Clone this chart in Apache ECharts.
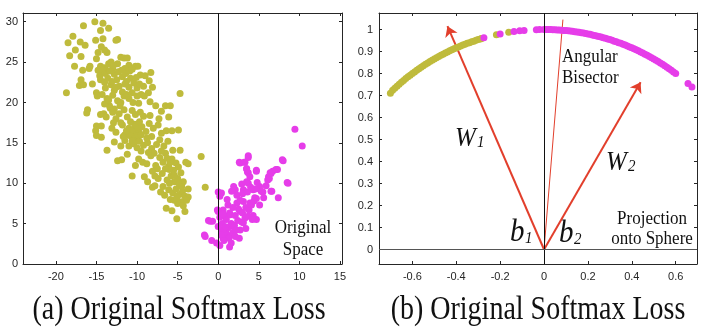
<!DOCTYPE html>
<html>
<head>
<meta charset="utf-8">
<script src="https://cdn.jsdelivr.net/npm/echarts@6/dist/echarts.min.js"></script>
<style>
  html, body { margin: 0; padding: 0; background: #fff; }
  #chart { width: 714px; height: 335px; }
</style>
</head>
<body>
<div id="chart"></div>
<script>
// ---- Panel (a): raw 2-D features ----
const xTicksA = [-20, -15, -10, -5, 0, 5, 10, 15];
const yTicksA = [0, 5, 10, 15, 20, 25, 30];

const classA = [
  [-16.6,29.5],[-15.2,30.0],[-14.2,29.8],[-13.5,29.2],[-14.5,28.9],[-17.9,28.2],
  [-18.5,27.4],[-17.0,27.5],[-16.4,27.1],[-15.1,27.7],[-14.2,27.9],[-12.4,27.8],[-12.6,27.7],[-14.4,26.9],[-17.6,26.5],[-14.8,26.2],[-13.7,26.2],[-14.0,26.5],
  [-18.3,25.8],[-16.9,25.7],[-15.0,25.4],[-17.7,24.5],[-15.8,24.5],[-15.9,24.2],[-16.7,24.0],[-14.5,24.5],[-14.0,24.3],[-13.8,24.0],[-14.3,23.8],[-13.5,24.8],
  [-12.0,25.6],[-11.6,25.5],[-11.2,25.5],[-12.4,24.8],[-11.0,24.6],[-10.2,24.5],[-9.9,24.5],[-11.5,24.2],[-13.2,25.0],[-14.8,24.0],[-13.0,24.2],[-12.8,23.5],[-14.6,23.3],
  [-16.9,22.8],[-17.1,22.1],[-16.6,22.2],[-15.5,22.3],[-14.5,22.8],[-14.0,22.5],[-13.6,23.0],[-12.5,22.8],[-12.2,22.0],[-11.8,23.2],[-11.3,22.6],[-10.8,23.0],
  [-10.4,22.4],[-9.6,23.4],[-9.0,23.3],[-8.3,23.7],[-8.5,22.7],[-9.2,22.0],[-10.0,21.8],[-11.0,21.9],[-12.8,21.5],[-13.9,21.8],[-13.2,22.2],[-15.0,21.2],[-14.3,21.0],
  [-18.7,21.2],[-14.9,20.8],[-13.7,20.5],[-13.0,20.9],[-12.4,20.2],[-11.6,20.8],[-11.0,20.5],[-10.5,20.0],[-10.0,20.8],[-9.5,21.0],[-9.1,20.8],[-8.6,21.2],[-8.1,21.9],
  [-8.4,20.1],[-11.8,21.3],[-12.0,20.0],[-13.4,19.6],[-9.8,19.9],[-4.7,21.1],
  [-16.1,19.1],[-16.2,18.7],[-14.5,18.5],[-14.1,18.6],[-13.3,19.3],[-12.8,19.2],[-12.2,18.6],[-11.6,19.1],[-11.2,18.2],[-10.6,19.0],[-10.2,18.5],[-9.6,18.8],
  [-9.2,18.3],[-8.4,18.4],[-7.7,19.6],[-7.0,18.9],[-6.5,19.6],[-5.9,19.6],[-6.1,18.2],[-7.3,18.0],[-12.6,18.0],[-13.8,18.2],
  [-15.0,17.1],[-14.4,17.1],[-15.1,16.5],[-13.1,16.8],[-12.6,16.3],[-11.8,17.2],[-11.0,16.8],[-10.7,16.2],[-10.4,16.6],[-10.1,16.0],[-10.6,15.7],[-9.8,16.4],
  [-9.4,17.0],[-8.9,16.4],[-8.5,17.4],[-8.0,16.8],[-7.4,17.2],[-7.0,16.2],[-6.4,16.5],[-5.7,16.5],[-4.9,16.6],[-11.5,16.0],[-10.9,15.9],[-10.3,15.5],[-9.9,15.9],[-12.0,17.5],
  [-15.0,15.9],[-14.4,15.7],[-13.7,14.1],[-12.8,15.1],[-12.0,14.6],[-11.5,15.3],[-11.0,14.6],[-10.4,14.9],[-9.7,15.2],[-9.2,14.7],[-8.7,15.0],[-8.2,14.3],
  [-7.6,14.8],[-7.2,15.4],[-6.7,14.6],[-6.2,15.2],[-5.6,14.1],[-4.7,14.1],[-7.9,13.7],[-9.5,14.0],
  [-12.4,12.8],[-11.9,12.9],[-11.2,13.6],[-10.2,12.2],[-9.8,13.0],[-9.3,12.6],[-8.8,12.4],[-8.3,13.4],[-7.7,12.2],[-7.2,13.2],[-6.8,12.6],[-6.5,13.7],
  [-6.1,12.1],[-5.7,13.0],[-5.2,12.5],[-4.0,12.6],[-3.7,12.4],[-2.1,13.3],[-7.5,11.8],[-5.5,11.6],
  [-10.6,10.9],[-9.1,10.8],[-8.7,10.2],[-8.1,11.5],[-7.4,10.6],[-6.9,11.2],[-6.3,10.4],[-5.8,10.9],[-5.4,10.2],[-5.0,10.6],[-4.6,11.3],[-4.3,10.2],[-6.0,11.7],[-7.8,10.9],[-4.8,9.9],
  [-8.1,9.5],[-7.8,9.7],[-7.1,8.9],[-6.6,8.5],[-6.1,9.2],[-5.6,8.8],[-5.2,9.3],[-4.8,8.6],[-4.4,9.0],[-4.1,8.4],[-3.7,9.3],[-3.7,8.3],[-1.6,9.5],[-5.9,8.0],[-6.8,9.6],
  [-6.4,6.9],[-5.7,6.6],[-5.1,5.6],[-4.1,6.5],[-4.5,7.7],[-5.0,7.5],[-5.4,7.9],[-4.3,7.2],[-3.9,7.9],
  [-14.2,24.0],[-13.9,23.6],[-13.4,23.9],[-12.9,24.6],[-12.3,23.8],[-11.9,24.0],[-11.4,23.6],[-10.9,23.9],[-10.6,24.1],[-13.1,22.6],[-12.6,21.9],[-11.5,22.3],
  [-10.1,23.1],[-9.7,22.3],[-11.3,21.0],[-10.6,21.2],[-10.3,17.3],[-10.0,17.0],[-9.7,17.6],[-10.8,17.6],[-11.3,16.5],[-9.5,16.0],[-8.8,15.6],[-10.6,15.2],
  [-10.0,14.4],[-11.7,15.8],[-8.2,15.8],[-6.0,10.0],[-5.4,11.0],[-4.9,12.0],[-5.9,12.6],[-6.5,11.8],[-4.5,9.6],[-5.1,8.2],[-6.3,13.1],[-7.0,14.0],[-8.6,13.8],
  [-12.1,19.6],[-13.0,18.8],[-12.9,17.5],[-14.0,19.8],[-13.5,20.3]
];

const classB = [
  [9.45,16.7],[10.35,14.6],[8.0,12.8],[8.6,10.0],[7.4,8.2],[7.3,11.7],[6.7,11.5],[6.4,11.3],[6.6,9.0],[6.1,10.4],[6.2,10.8],
  [3.7,13.2],[3.3,12.6],[2.7,12.5],[3.5,11.8],[3.6,11.4],[4.7,11.5],[5.1,9.6],[4.3,9.2],[3.7,10.0],[3.1,9.2],[2.1,9.2],[1.65,9.0],
  [0.4,8.8],[0.2,8.4],[4.5,8.2],[5.1,7.3],[3.9,7.55],[3.1,7.75],[2.3,7.55],[1.2,7.3],[0.6,6.7],[1.4,6.3],[2.7,6.5],[3.7,5.9],[4.7,5.5],
  [3.1,5.1],[1.85,4.65],[1.0,5.5],[0.0,6.5],[-1.0,5.3],[-0.7,5.3],[-1.6,3.4],[-0.8,2.9],[-0.2,2.6],[0.2,2.3],[0.6,3.2],[1.0,3.8],[1.3,3.5],[1.9,3.8],
  [0.4,4.25],[0.0,4.65],[2.7,4.2],
  [0.0,8.9],[-1.7,3.6],[-1.2,5.4],[-0.1,6.7],[1.4,2.1],[2.6,3.2],[3.4,4.4],[4.3,6.0],[4.7,8.1],[5.5,8.9],[5.9,9.7],[6.3,10.6],[6.5,11.2],[7.1,11.7],
  [7.9,12.9],[8.5,10.1],[6.5,9.0],[2.6,12.6],[3.2,12.6],[3.7,13.4],[3.5,11.8],[3.7,11.3],[4.7,11.6],[3.5,10.2],
  [0.8,4.0],[1.2,4.5],[1.6,5.0],[2.0,4.8],[2.4,5.4],[1.0,5.9],[1.5,6.1],[2.1,6.0],[2.5,6.8],[3.0,6.3],[3.4,7.0],[0.5,5.0],[0.9,4.6],[1.3,3.2],
  [1.8,3.9],[2.2,4.2],[2.9,5.2],[3.3,5.7],[3.8,6.7],[4.1,7.3],[4.4,7.8],[2.7,7.9],[3.0,8.7],[3.6,8.9],[4.0,9.5],[4.8,10.1],[5.3,9.0],[1.8,7.0],
  [1.1,8.0],[2.3,8.5],[0.4,3.6],[0.7,2.9],[1.6,2.6],[2.1,3.4],[0.2,5.8],[0.6,6.2],[5.6,8.2],[4.2,5.5],[1.9,9.6],[2.9,9.9],[3.9,10.8],[4.6,9.3]
];

// ---- Panel (b): features projected onto the unit circle ----
const xTicksB = [-0.6, -0.4, -0.2, 0, 0.2, 0.4, 0.6];
const yTicksB = [0, 0.1, 0.2, 0.3, 0.4, 0.5, 0.6, 0.7, 0.8, 0.9, 1];

const arcA = [
  [-0.70,0.710],[-0.69,0.724],[-0.68,0.733],[-0.67,0.742],[-0.66,0.751],[-0.65,0.760],[-0.64,0.768],[-0.63,0.777],[-0.62,0.785],
  [-0.61,0.792],[-0.60,0.800],[-0.59,0.807],[-0.58,0.815],[-0.57,0.822],[-0.56,0.828],[-0.55,0.835],[-0.54,0.842],[-0.53,0.848],
  [-0.52,0.854],[-0.51,0.860],[-0.50,0.866],[-0.49,0.872],[-0.48,0.877],[-0.47,0.883],[-0.46,0.888],[-0.45,0.893],[-0.44,0.898],
  [-0.43,0.903],[-0.42,0.908],[-0.41,0.912],[-0.40,0.917],[-0.39,0.921],[-0.38,0.925],[-0.37,0.929],[-0.36,0.933],[-0.35,0.937],
  [-0.34,0.940],[-0.33,0.944],[-0.32,0.947],[-0.31,0.951],[-0.30,0.954],[-0.29,0.957],[-0.285,0.959],
  [-0.217,0.976],[-0.161,0.987]
];

const arcB = [
  [-0.274,0.962],[-0.200,0.980],[-0.137,0.991],[-0.111,0.994],[-0.091,0.996],[-0.035,0.999],[-0.020,1.000],
  [0.00,1.000],[0.01,1.000],[0.02,1.000],[0.03,1.000],[0.04,0.999],[0.05,0.999],[0.06,0.998],[0.07,0.998],[0.08,0.997],[0.09,0.996],
  [0.10,0.995],[0.11,0.994],[0.12,0.993],[0.13,0.992],[0.14,0.990],[0.15,0.989],[0.16,0.987],[0.17,0.985],[0.18,0.984],[0.19,0.982],
  [0.20,0.980],[0.21,0.978],[0.22,0.975],[0.23,0.973],[0.24,0.971],[0.25,0.968],[0.26,0.966],[0.27,0.963],[0.28,0.960],[0.29,0.957],
  [0.30,0.954],[0.31,0.951],[0.32,0.947],[0.33,0.944],[0.34,0.940],[0.35,0.937],[0.36,0.933],[0.37,0.929],[0.38,0.925],[0.39,0.921],
  [0.40,0.917],[0.41,0.912],[0.42,0.908],[0.43,0.903],[0.44,0.898],[0.45,0.893],[0.46,0.888],[0.47,0.883],[0.48,0.877],[0.49,0.872],
  [0.50,0.866],[0.51,0.860],[0.52,0.854],[0.53,0.848],[0.54,0.842],[0.55,0.835],[0.56,0.828],[0.57,0.822],[0.58,0.815],[0.59,0.807],
  [0.60,0.800],[0.656,0.755],[0.674,0.739]
];

// class weight vectors W1, W2 and the angular bisector between them
const weightTips = [[-0.44, 1.015], [0.44, 0.76]];
const bisectorTip = [0.086, 1.045];

const COL_A = '#bfbb3c';
const COL_B = '#e63de9';
const COL_RED = '#e23f2c';
const AXIS_COL = '#262626';
const LABEL_FONT = '"Liberation Sans", Arial, sans-serif';
const SERIF = '"Liberation Serif", "Times New Roman", serif';

function frameAxis(grid, pos, min, max, ticks, showLabel, margin) {
  return {
    type: 'value', gridIndex: grid, position: pos, min: min, max: max,
    axisLine: { show: true, onZero: false, lineStyle: { color: AXIS_COL, width: 1 } },
    axisTick: { show: true, inside: true, length: 3, customValues: ticks, lineStyle: { color: AXIS_COL } },
    axisLabel: { show: showLabel, customValues: ticks, color: '#262626', fontSize: 11, fontFamily: LABEL_FONT, margin: margin },
    splitLine: { show: false }
  };
}

// text helper: anchored label, optionally stretched vertically about its anchor
function label(text, x, y, font, align, sy) {
  return {
    type: 'text', x: x, y: y, scaleY: sy || 1,
    style: { text: text, font: font, fill: '#111', align: align, verticalAlign: 'middle' }
  };
}

const chart = echarts.init(document.getElementById('chart'), null, { renderer: 'canvas' });

chart.setOption({
  animation: false,
  backgroundColor: '#ffffff',
  grid: [
    { left: 23, top: 13, width: 319, height: 251 },
    { left: 379, top: 13, width: 318, height: 251 }
  ],
  xAxis: [
    frameAxis(0, 'bottom', -24.05, 15.25, xTicksA, true, 7),
    frameAxis(0, 'top', -24.05, 15.25, xTicksA, false, 7),
    frameAxis(1, 'bottom', -0.752, 0.697, xTicksB, true, 7),
    frameAxis(1, 'top', -0.752, 0.697, xTicksB, false, 7)
  ],
  yAxis: [
    frameAxis(0, 'left', 0, 31.08, yTicksA, true, 5),
    frameAxis(0, 'right', 0, 31.08, yTicksA, false, 5),
    frameAxis(1, 'left', -0.066, 1.075, yTicksB, true, 6),
    frameAxis(1, 'right', -0.066, 1.075, yTicksB, false, 6)
  ],
  series: [
    {
      type: 'scatter', xAxisIndex: 0, yAxisIndex: 0, data: classA,
      symbolSize: 7, itemStyle: { color: COL_A, opacity: 1 },
      markLine: {
        silent: true, symbol: 'none', label: { show: false },
        lineStyle: { color: '#111', width: 1, type: 'solid' },
        data: [{ xAxis: 0 }]
      }
    },
    {
      type: 'scatter', xAxisIndex: 0, yAxisIndex: 0, data: classB,
      symbolSize: 7, itemStyle: { color: COL_B, opacity: 1 }
    },
    {
      type: 'scatter', xAxisIndex: 2, yAxisIndex: 2, data: arcA,
      symbolSize: 7, itemStyle: { color: COL_A, opacity: 1 },
      markLine: {
        silent: true, symbol: 'none', label: { show: false },
        data: [
          { xAxis: 0, lineStyle: { color: '#111', width: 1, type: 'solid' } },
          { yAxis: 0, lineStyle: { color: '#555', width: 1, type: 'solid' } }
        ]
      }
    },
    {
      type: 'scatter', xAxisIndex: 2, yAxisIndex: 2, data: arcB,
      symbolSize: 7, itemStyle: { color: COL_B, opacity: 1 }
    },
    {
      type: 'lines', coordinateSystem: 'cartesian2d', xAxisIndex: 2, yAxisIndex: 2,
      symbol: ['none', 'none'],
      lineStyle: { color: COL_RED, width: 1, opacity: 1 },
      data: [{ coords: [[0, 0], bisectorTip] }]
    },
    {
      type: 'lines', coordinateSystem: 'cartesian2d', xAxisIndex: 2, yAxisIndex: 2,
      symbol: ['none', 'arrow'], symbolSize: 10,
      lineStyle: { color: COL_RED, width: 2, opacity: 1 },
      data: weightTips.map(function (t) { return { coords: [[0, 0], t] }; })
    }
  ],
  graphic: [
    label('Original', 303, 228, '17px ' + SERIF, 'center', 1.12),
    label('Space', 303, 250, '17px ' + SERIF, 'center', 1.12),
    label('Angular', 562, 57, '17px ' + SERIF, 'left', 1.12),
    label('Bisector', 562, 78, '17px ' + SERIF, 'left', 1.12),
    label('Projection', 652, 219, '17px ' + SERIF, 'center', 1.12),
    label('onto Sphere', 652, 239, '17px ' + SERIF, 'center', 1.12),
    label('W', 455, 139, 'italic 25px ' + SERIF, 'left', 1.1),
    label('1', 477, 143, 'italic 15px ' + SERIF, 'left', 1.1),
    label('W', 606, 163, 'italic 25px ' + SERIF, 'left', 1.1),
    label('2', 628, 167, 'italic 15px ' + SERIF, 'left', 1.1),
    label('b', 510, 233, 'italic 29px ' + SERIF, 'left', 1.1),
    label('1', 525, 239, 'italic 15px ' + SERIF, 'left', 1.1),
    label('b', 559, 234, 'italic 29px ' + SERIF, 'left', 1.1),
    label('2', 574, 240, 'italic 15px ' + SERIF, 'left', 1.1),
    label('(a) Original Softmax Loss', 179, 310, '28px ' + SERIF, 'center', 1.2),
    label('(b) Original Softmax Loss', 538, 310, '28px ' + SERIF, 'center', 1.2)
  ]
});
</script>
</body>
</html>
